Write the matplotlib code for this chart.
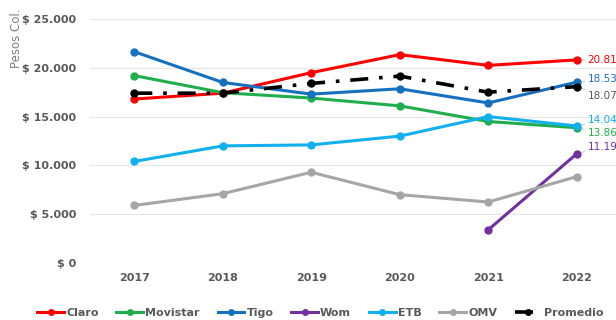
import matplotlib
matplotlib.use("Agg")
import matplotlib.pyplot as plt
from matplotlib.ticker import FuncFormatter

plt.rcParams['font.family'] = ['Liberation Sans Narrow', 'DejaVu Sans']

years = ['2017', '2018', '2019', '2020', '2021', '2022']
claro = [16.8, 17.4, 19.5, 21.35, 20.25, 20.81]
movistar = [19.2, 17.45, 16.9, 16.1, 14.5, 13.86]
tigo = [21.65, 18.5, 17.3, 17.85, 16.4, 18.53]
wom = [None, None, None, None, 3.4, 11.19]
etb = [10.4, 12.0, 12.1, 13.0, 15.0, 14.04]
omv = [5.9, 7.1, 9.3, 7.0, 6.25, 8.85]
promedio = [17.4, 17.4, 18.4, 19.15, 17.5, 18.07]

series = [
    ('Claro', claro, '#ff0000'),
    ('Movistar', movistar, '#1fae4b'),
    ('Tigo', tigo, '#1570c0'),
    ('Wom', wom, '#7030a0'),
    ('ETB', etb, '#12b0ee'),
    ('OMV', omv, '#a6a6a6'),
]

# end labels: (text, colour, label y in thousands)
end_labels = [
    ('20.81', '#ff0000', 20.75),
    ('18.53', '#1570c0', 18.85),
    ('18.07', '#595959', 17.1),
    ('14.04', '#12b0ee', 14.65),
    ('13.86', '#1fae4b', 13.3),
    ('11.19', '#7030a0', 11.9),
]
end_values = [20.81, 18.53, 18.07, 14.04, 13.86, 11.19]

W, H = 616, 320
fig = plt.figure(figsize=(W / 100, H / 100), dpi=100)
ax = fig.add_axes([90 / W, 1 - 263 / H, 531 / W, 244 / H])

x = list(range(len(years)))
for name, vals, col in series:
    xs = [i for i, v in zip(x, vals) if v is not None]
    ys = [v * 1000 for v in vals if v is not None]
    ax.plot(xs, ys, color=col, lw=2.2, marker='o', ms=5, label=name, zorder=3)

ax.plot(x, [v * 1000 for v in promedio], color='black', lw=2.6,
        ls=(0, (5, 3, 1, 3)), marker='o', ms=5, label='Promedio', zorder=4)

for (txt, col, ly), v in zip(end_labels, end_values):
    ax.annotate(txt, xy=(5, v * 1000), xytext=(5.12, ly * 1000), color=col,
                fontsize=7.5, va='center', ha='left', annotation_clip=False,
                arrowprops=dict(arrowstyle='-', color='#c8c8c8', lw=0.8,
                                shrinkA=0, shrinkB=4))

ax.set_xlim(-0.5, 5.5)
ax.set_ylim(0, 25000)
ax.set_yticks(range(0, 25001, 5000))
ax.yaxis.set_major_formatter(FuncFormatter(
    lambda v, p: '$ ' + f'{int(v):,}'.replace(',', '.')))
ax.set_xticks(x)
ax.set_xticklabels(years)
ax.grid(axis='y', color='#e6e6e6', lw=0.8)
ax.set_axisbelow(True)
for s in ax.spines.values():
    s.set_visible(False)
ax.tick_params(length=0, colors='#595959', labelsize=8)
ax.tick_params(axis='y', pad=10)
ax.tick_params(axis='x', pad=7)
for lab in ax.get_xticklabels() + ax.get_yticklabels():
    lab.set_fontweight('bold')

fig.text(16 / W, 1 - 38 / H, 'Pesos Col.', rotation=90, ha='center',
         va='center', fontsize=8.5, color='#7f7f7f')

leg = fig.legend(loc='center', bbox_to_anchor=(0.52, 1 - 313 / H), ncol=7,
                 frameon=False, fontsize=8, handlelength=2.4, markerscale=0.8,
                 columnspacing=1.6, handletextpad=0.2)
for t in leg.get_texts():
    t.set_color('#595959')
    t.set_fontweight('bold')

fig.savefig('out.png', dpi=100)
